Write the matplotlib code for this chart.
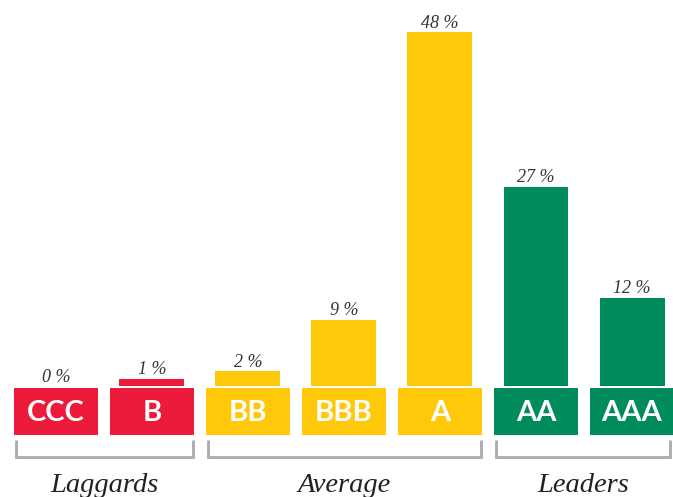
import matplotlib
matplotlib.use("Agg")
import matplotlib.pyplot as plt

categories = ["CCC", "B", "BB", "BBB", "A", "AA", "AAA"]
values = [0, 1, 2, 9, 48, 27, 12]
value_labels = ["0 %", "1 %", "2 %", "9 %", "48 %", "27 %", "12 %"]
groups = ["Laggards", "Average", "Leaders"]
group_members = [(0, 1), (2, 4), (5, 6)]

RED = "#ED1B3B"
YEL = "#FFC90A"
GRN = "#008C5A"
colors = [RED, RED, YEL, YEL, YEL, GRN, GRN]

fig = plt.figure(figsize=(6.73, 4.97), dpi=100)
ax = fig.add_axes([0, 0, 1, 1])
xlim = (-0.583, 6.427)
ax.set_xlim(*xlim)
ax.set_ylim(-15.05, 52.34)
ax.axis("off")

x = list(range(len(categories)))
ax.bar(x, values, width=0.677, color=colors, bottom=0)

# category label boxes
box_top, box_bot = -0.27, -6.64
ax.bar(x, [box_top - box_bot] * len(x), bottom=box_bot, width=0.875, color=colors)
for xi, c in zip(x, categories):
    ax.text(xi, (box_top + box_bot) / 2 - 0.15, c, ha="center", va="center",
            color="white", fontsize=21, fontweight="bold", family="Lato")

# value labels
for xi, v, lab in zip(x, values, value_labels):
    ax.annotate(lab, (xi, v), xytext=(0, 0.3), textcoords="offset points",
                ha="center", va="bottom", fontsize=13, style="italic",
                family="Liberation Serif", color="#333333")

# group brackets
b_top, b_bot = -7.32, -9.63
for g, (i0, i1) in zip(groups, group_members):
    xl, xr = i0 - 0.42, min(i1 + 0.43, xlim[1] - 0.03)
    ax.plot([xl, xl, xr, xr], [b_top, b_bot, b_bot, b_top], color="#AAAAAE",
            lw=2, solid_joinstyle="miter", solid_capstyle="butt")
    ax.text((xl + xr) / 2, -13.5, g, ha="center", va="center", fontsize=20.5,
            style="italic", family="Liberation Serif", color="#222222")

fig.savefig("out.png", dpi=100)
